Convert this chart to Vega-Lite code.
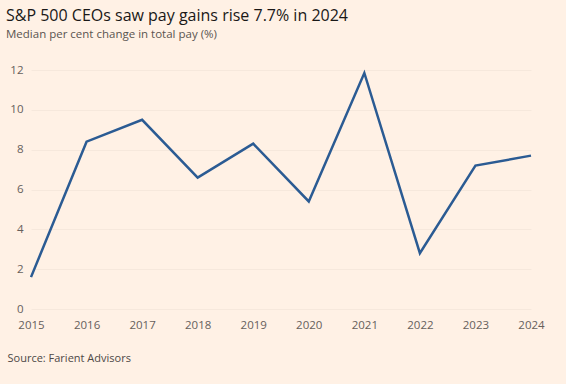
{
  "$schema": "https://vega.github.io/schema/vega-lite/v6.json",
  "autosize": {"type": "none"},
  "width": 500,
  "height": 239,
  "padding": {"left": 31, "top": 70, "right": 35, "bottom": 75},
  "background": "#FFF1E5",
  "config": {
    "view": {"stroke": null},
    "font": "Open Sans"
  },
  "title": {
    "text": "S&P 500 CEOs saw pay gains rise 7.7% in 2024",
    "subtitle": "Median per cent change in total pay (%)",
    "anchor": "start",
    "frame": "group",
    "dx": -25,
    "offset": 24,
    "fontSize": 16,
    "fontWeight": "normal",
    "color": "#1a1817",
    "subtitleFontSize": 11.5,
    "subtitleColor": "#5a5450",
    "subtitlePadding": 5
  },
  "data": {
    "values": [
      {"year": 2015, "pay": 1.6},
      {"year": 2016, "pay": 8.4},
      {"year": 2017, "pay": 9.5},
      {"year": 2018, "pay": 6.6},
      {"year": 2019, "pay": 8.3},
      {"year": 2020, "pay": 5.4},
      {"year": 2021, "pay": 11.85},
      {"year": 2022, "pay": 2.8},
      {"year": 2023, "pay": 7.2},
      {"year": 2024, "pay": 7.7}
    ]
  },
  "mark": {"type": "line", "color": "#2b5b93", "strokeWidth": 2.5},
  "encoding": {
    "x": {
      "field": "year",
      "type": "quantitative",
      "scale": {"domain": [2015, 2024], "nice": false, "zero": false},
      "axis": {
        "values": [2015, 2016, 2017, 2018, 2019, 2020, 2021, 2022, 2023, 2024],
        "format": "d",
        "grid": false,
        "domain": false,
        "ticks": false,
        "labelFlush": false,
        "labelBound": false,
        "labelOverlap": false,
        "labelPadding": 10,
        "labelFontSize": 11.5,
        "labelColor": "#66605c",
        "title": "Source: Farient Advisors",
        "titleAnchor": "start",
        "titleAlign": "left",
        "titleX": -24,
        "titleY": 43,
        "titleFontSize": 11,
        "titleFontWeight": "normal",
        "titleColor": "#4d4845"
      }
    },
    "y": {
      "field": "pay",
      "type": "quantitative",
      "scale": {"domain": [0, 12], "nice": false},
      "axis": {
        "values": [0, 2, 4, 6, 8, 10, 12],
        "title": null,
        "domain": false,
        "ticks": false,
        "labelPadding": 8,
        "labelFontSize": 11.5,
        "labelColor": "#66605c",
        "gridColor": "#f6e8dc",
        "gridWidth": 1
      }
    }
  }
}
